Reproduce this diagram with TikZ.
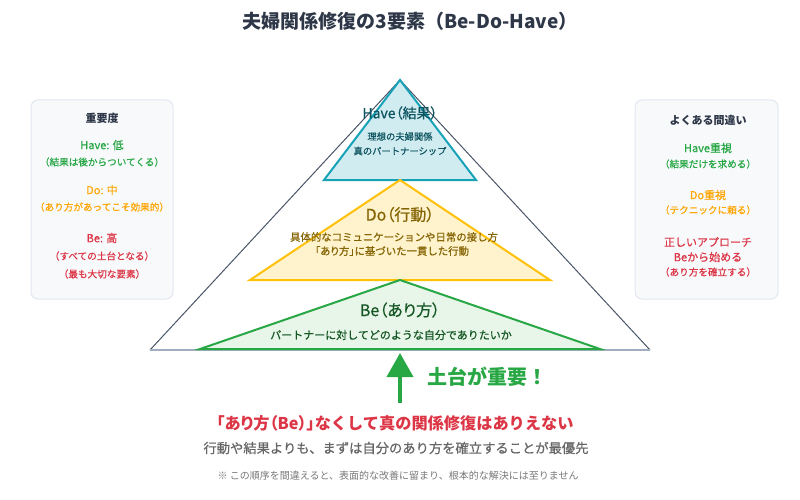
\documentclass[tikz,border=0pt]{standalone}
\usepackage{fontspec}
\setmainfont{Noto Sans CJK JP}
\usetikzlibrary{arrows.meta}
\definecolor{titlec}{HTML}{2D3748}
\definecolor{outerc}{HTML}{4A5568}
\definecolor{basec}{HTML}{A0AEC0}
\definecolor{havefill}{HTML}{D1ECF1}
\definecolor{havedraw}{HTML}{17A2B8}
\definecolor{havetext}{HTML}{0C5460}
\definecolor{dofill}{HTML}{FFF3CD}
\definecolor{dodraw}{HTML}{FFC107}
\definecolor{dotext}{HTML}{856404}
\definecolor{befill}{HTML}{E8F5E9}
\definecolor{bedraw}{HTML}{28A745}
\definecolor{betext}{HTML}{155724}
\definecolor{greenc}{HTML}{28A745}
\definecolor{orangec}{HTML}{FFA500}
\definecolor{redc}{HTML}{DC3545}
\definecolor{boxfill}{HTML}{F7F9FB}
\definecolor{boxdraw}{HTML}{E2E8F0}
\definecolor{grayc}{HTML}{666666}
\definecolor{notec}{HTML}{777777}
\newcommand{\fs}[1]{\fontsize{#1}{#1}\selectfont}
\newcommand{\palt}{\addfontfeatures{RawFeature=+palt}}
\newcommand{\med}{\addfontfeatures{FakeBold=0.6}}
\begin{document}
\begin{tikzpicture}[x=1pt,y=-1pt,
  txt/.style={inner sep=0pt, anchor=center},
  infobox/.style={draw=boxdraw, fill=boxfill, line width=1pt, rounded corners=7pt},
  layer/.style={line width=2pt, line join=miter}
]
\useasboundingbox (0,0) rectangle (800,500);
% title
\node[txt, text=titlec] (title) at (410,21) {\fs{19}\bfseries 夫婦関係修復の3要素（Be-Do-Have）};

% outer triangle
\coordinate (apex) at (400,80);
\coordinate (bl) at (150,350);
\coordinate (br) at (650,350);
\draw[outerc, line width=1pt] (bl) -- (apex) -- (br);
\draw[basec, line width=2pt] (bl) -- (br);

% Have
\filldraw[layer, fill=havefill, draw=havedraw] (400,80) -- (476,180) -- (324,180) -- cycle;
% Do
\filldraw[layer, fill=dofill, draw=dodraw] (400,180) -- (550,280) -- (250,280) -- cycle;
% Be
\filldraw[layer, fill=befill, draw=bedraw] (400,280) -- (600,349) -- (200,349) -- cycle;

\node[txt, text=havetext] (haveT) at (400,113) {\fs{14}\palt\med Have（結果）};
\node[txt, text=havetext] (haveA) at (400,136.5) {\fs{9.3}\med 理想の夫婦関係};
\node[txt, text=havetext] (haveB) at (400,151) {\fs{9.3}\med 真のパートナーシップ};

\node[txt, text=dotext] (doT) at (400,214.5) {\fs{16}\palt\med Do（行動）};
\node[txt, text=dotext] (doA) at (394,237) {\fs{10.4}\med 具体的なコミュニケーションや日常の接し方};
\node[txt, text=dotext] (doB) at (392,251) {\fs{10.4}\med {\palt「あり方」}に基づいた一貫した行動};

\node[txt, text=betext] (beT) at (400,310) {\fs{16}\palt\med Be（あり方）};
\node[txt, text=betext] (beA) at (391,335) {\fs{11}\med パートナーに対してどのような自分でありたいか};

% left box
\draw[infobox] (31,100) rectangle (173,299);
\node[txt, text=titlec] (lh) at (102,118) {\fs{11}\bfseries 重要度};
\node[txt, text=greenc] (l1) at (102,145) {\fs{11}\med Have: 低};
\node[txt, text=greenc] (l2) at (102,162) {\fs{9.6}\med（結果は後からついてくる）};
\node[txt, text=orangec] (l3) at (102,190) {\fs{11}\med Do: 中};
\node[txt, text=orangec] (l4) at (102,207) {\fs{9.6}\med（あり方があってこそ効果的）};
\node[txt, text=redc] (l5) at (102,238) {\fs{11}\med Be: 高};
\node[txt, text=redc] (l6) at (102,256) {\fs{9.6}\med（すべての土台となる）};
\node[txt, text=redc] (l7) at (102,274) {\fs{9.6}\med（最も大切な要素）};

% right box
\draw[infobox] (635,100) rectangle (778,299);
\node[txt, text=titlec] (rh) at (708,120) {\fs{11}\bfseries よくある間違い};
\node[txt, text=greenc] (r1) at (708,148) {\fs{11}\med Have重視};
\node[txt, text=greenc] (r2) at (708,164) {\fs{9.6}\med（結果だけを求める）};
\node[txt, text=orangec] (r3) at (708,195) {\fs{11}\med Do重視};
\node[txt, text=orangec] (r4) at (708,210) {\fs{9.6}\med（テクニックに頼る）};
\node[txt, text=redc] (r5) at (708,242) {\fs{11}\med 正しいアプローチ};
\node[txt, text=redc] (r6) at (708,257) {\fs{11}\med Beから始める};
\node[txt, text=redc] (r7) at (708,272) {\fs{9.6}\med（あり方を確立する）};

% arrow
\coordinate (atail) at (400,403);
\coordinate (atip) at (400,353);
\draw[greenc, line width=4pt, -{Triangle[width=26pt,length=24pt]}] (atail) -- (atip);
\node[txt, text=greenc, anchor=west] (found) at (427,377) {\fs{20}\bfseries 土台が重要！};

% bottom texts
\node[txt, text=redc] (m1) at (395,423) {\fs{16.2}\bfseries {\palt「あり方（Be）」}なくして真の関係修復はありえない};
\node[txt, text=grayc] (m2) at (396,448) {\fs{13.3}\med 行動や結果よりも、まずは自分のあり方を確立することが最優先};
\node[txt, text=notec] (m3) at (397,476) {\fs{10} ※ この順序を間違えると、表面的な改善に留まり、根本的な解決には至りません};
\end{tikzpicture}
\end{document}
